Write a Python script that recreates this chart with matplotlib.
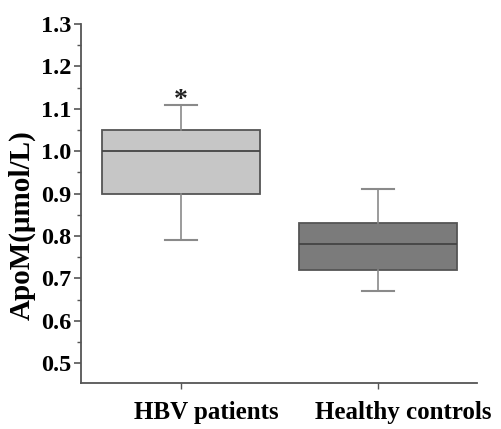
import matplotlib.pyplot as plt
from matplotlib.ticker import MultipleLocator
from matplotlib.transforms import ScaledTranslation

# data
groups = ['HBV patients', 'Healthy controls']
whislo = [0.79, 0.67]
q1 = [0.90, 0.72]
med = [1.00, 0.78]
q3 = [1.05, 0.83]
whishi = [1.11, 0.91]
fills = ['#c6c6c6', '#7b7b7b']
star_y = 1.12

plt.rcParams['font.family'] = ['Liberation Serif', 'DejaVu Serif']
plt.rcParams['font.weight'] = 'bold'

fig = plt.figure(figsize=(5.01, 4.29), dpi=100)
ax = fig.add_axes([0.162, 0.107, 0.79, 0.837])

stats = []
for i, g in enumerate(groups):
    stats.append(dict(label=g, whislo=whislo[i], q1=q1[i], med=med[i],
                      q3=q3[i], whishi=whishi[i], fliers=[]))

pos = [1, 2]
bp = ax.bxp(stats, positions=pos, widths=0.8, patch_artist=True,
            showfliers=False,
            boxprops=dict(edgecolor='#555555', linewidth=1.3),
            medianprops=dict(color='#444444', linewidth=1.3),
            whiskerprops=dict(color='#8a8a8a', linewidth=1.2),
            capprops=dict(color='#8a8a8a', linewidth=1.5))
for patch, c in zip(bp['boxes'], fills):
    patch.set_facecolor(c)
for cap in bp['caps']:
    x0, x1 = cap.get_xdata()
    m = (x0 + x1) / 2
    cap.set_xdata([m - 0.08, m + 0.08])

ax.text(1, star_y, '*', ha='center', va='center', fontsize=20, color='#222222')

ax.set_xlim(0.492, 2.503)
ax.set_ylim(0.453, 1.3)
ax.yaxis.set_minor_locator(MultipleLocator(0.05))
ax.set_yticks([0.5, 0.6, 0.7, 0.8, 0.9, 1.0, 1.1, 1.2, 1.3])
ax.set_xticks(pos)
ax.set_xticklabels([])
# group labels sit a bit right of their ticks in the original
shift = ScaledTranslation(25 / 100, 0, fig.dpi_scale_trans)
for p, g in zip(pos, groups):
    ax.text(p, -0.05, g, transform=ax.get_xaxis_transform() + shift,
            ha='center', va='top', fontsize=18, fontweight='bold', clip_on=False)
for lab in ax.get_yticklabels():
    lab.set_fontsize(17.5)
    lab.set_fontweight('bold')
ax.set_ylabel('ApoM(μmol/L)', fontsize=21, fontweight='bold')
ax.yaxis.set_label_coords(-0.114, 0.44)

for s in ['top', 'right']:
    ax.spines[s].set_visible(False)
for s in ['left', 'bottom']:
    ax.spines[s].set_color('#555555')
    ax.spines[s].set_linewidth(1.3)
ax.tick_params(axis='y', which='major', direction='out', length=5, width=1.2, color='#555555', pad=2)
ax.tick_params(axis='y', which='minor', direction='out', length=3, width=1.0, color='#555555')
ax.tick_params(axis='x', direction='out', length=4, width=1.0, color='#555555')

fig.savefig('out.png', dpi=100)
